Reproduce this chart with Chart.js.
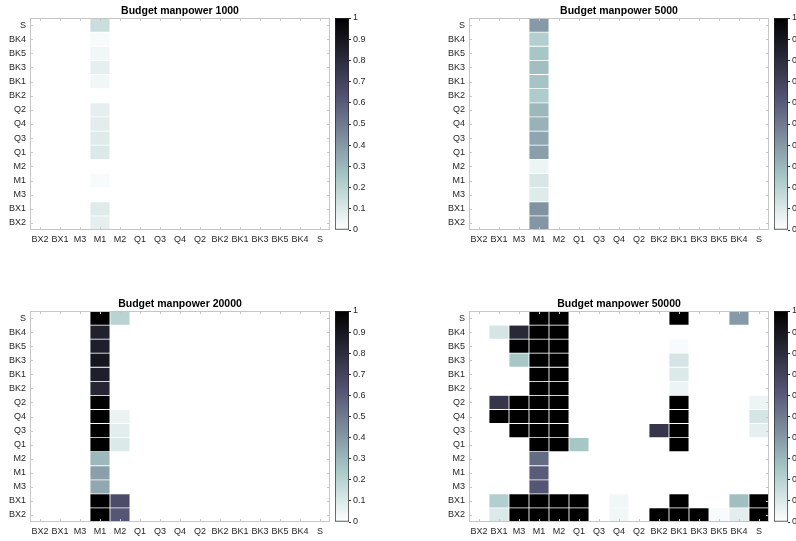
<!DOCTYPE html>
<html><head><meta charset="utf-8">
<script src="https://cdn.jsdelivr.net/npm/chart.js@4/dist/chart.umd.min.js"></script>
<style>
html,body{margin:0;padding:0;background:#fff;overflow:hidden;width:796px;height:541px;position:relative;}
canvas{position:absolute;}
</style></head><body>
<script>
// Row labels listed top -> bottom, column labels left -> right
const rowLabels = ['S','BK4','BK5','BK3','BK1','BK2','Q2','Q4','Q3','Q1','M2','M1','M3','BX1','BX2'];
const colLabels = ['BX2','BX1','M3','M1','M2','Q1','Q3','Q4','Q2','BK2','BK1','BK3','BK5','BK4','S'];
const panelTitles = ['Budget manpower 1000','Budget manpower 5000','Budget manpower 20000','Budget manpower 50000'];
const colorbarTicks = [0,0.1,0.2,0.3,0.4,0.5,0.6,0.7,0.8,0.9,1];

// columns:      BX2 BX1  M3   M1   M2   Q1  Q3  Q4   Q2  BK2  BK1  BK3 BK5  BK4   S
const budget1000 = [
  [0,  0,   0,  .15,  0,   0,  0,  0,   0,  0,   0,   0,  0,   0,   0], // S
  [0,  0,   0,  .02,  0,   0,  0,  0,   0,  0,   0,   0,  0,   0,   0], // BK4
  [0,  0,   0,  .04,  0,   0,  0,  0,   0,  0,   0,   0,  0,   0,   0], // BK5
  [0,  0,   0,  .07,  0,   0,  0,  0,   0,  0,   0,   0,  0,   0,   0], // BK3
  [0,  0,   0,  .04,  0,   0,  0,  0,   0,  0,   0,   0,  0,   0,   0], // BK1
  [0,  0,   0,  0,    0,   0,  0,  0,   0,  0,   0,   0,  0,   0,   0], // BK2
  [0,  0,   0,  .07,  0,   0,  0,  0,   0,  0,   0,   0,  0,   0,   0], // Q2
  [0,  0,   0,  .08,  0,   0,  0,  0,   0,  0,   0,   0,  0,   0,   0], // Q4
  [0,  0,   0,  .09,  0,   0,  0,  0,   0,  0,   0,   0,  0,   0,   0], // Q3
  [0,  0,   0,  .10,  0,   0,  0,  0,   0,  0,   0,   0,  0,   0,   0], // Q1
  [0,  0,   0,  0,    0,   0,  0,  0,   0,  0,   0,   0,  0,   0,   0], // M2
  [0,  0,   0,  .02,  0,   0,  0,  0,   0,  0,   0,   0,  0,   0,   0], // M1
  [0,  0,   0,  0,    0,   0,  0,  0,   0,  0,   0,   0,  0,   0,   0], // M3
  [0,  0,   0,  .09,  0,   0,  0,  0,   0,  0,   0,   0,  0,   0,   0], // BX1
  [0,  0,   0,  .07,  0,   0,  0,  0,   0,  0,   0,   0,  0,   0,   0]  // BX2
];
const budget5000 = [
  [0,  0,   0,  .40,  0,   0,  0,  0,   0,  0,   0,   0,  0,   0,   0], // S
  [0,  0,   0,  .22,  0,   0,  0,  0,   0,  0,   0,   0,  0,   0,   0], // BK4
  [0,  0,   0,  .25,  0,   0,  0,  0,   0,  0,   0,   0,  0,   0,   0], // BK5
  [0,  0,   0,  .28,  0,   0,  0,  0,   0,  0,   0,   0,  0,   0,   0], // BK3
  [0,  0,   0,  .26,  0,   0,  0,  0,   0,  0,   0,   0,  0,   0,   0], // BK1
  [0,  0,   0,  .23,  0,   0,  0,  0,   0,  0,   0,   0,  0,   0,   0], // BK2
  [0,  0,   0,  .30,  0,   0,  0,  0,   0,  0,   0,   0,  0,   0,   0], // Q2
  [0,  0,   0,  .32,  0,   0,  0,  0,   0,  0,   0,   0,  0,   0,   0], // Q4
  [0,  0,   0,  .36,  0,   0,  0,  0,   0,  0,   0,   0,  0,   0,   0], // Q3
  [0,  0,   0,  .38,  0,   0,  0,  0,   0,  0,   0,   0,  0,   0,   0], // Q1
  [0,  0,   0,  .05,  0,   0,  0,  0,   0,  0,   0,   0,  0,   0,   0], // M2
  [0,  0,   0,  .11,  0,   0,  0,  0,   0,  0,   0,   0,  0,   0,   0], // M1
  [0,  0,   0,  .09,  0,   0,  0,  0,   0,  0,   0,   0,  0,   0,   0], // M3
  [0,  0,   0,  .42,  0,   0,  0,  0,   0,  0,   0,   0,  0,   0,   0], // BX1
  [0,  0,   0,  .41,  0,   0,  0,  0,   0,  0,   0,   0,  0,   0,   0]  // BX2
];
const budget20000 = [
  [0,  0,   0,  1,   .20,  0,  0,  0,   0,  0,   0,   0,  0,   0,   0], // S
  [0,  0,   0,  .85,  0,   0,  0,  0,   0,  0,   0,   0,  0,   0,   0], // BK4
  [0,  0,   0,  .86,  0,   0,  0,  0,   0,  0,   0,   0,  0,   0,   0], // BK5
  [0,  0,   0,  .90,  0,   0,  0,  0,   0,  0,   0,   0,  0,   0,   0], // BK3
  [0,  0,   0,  .86,  0,   0,  0,  0,   0,  0,   0,   0,  0,   0,   0], // BK1
  [0,  0,   0,  .83,  0,   0,  0,  0,   0,  0,   0,   0,  0,   0,   0], // BK2
  [0,  0,   0,  1,    0,   0,  0,  0,   0,  0,   0,   0,  0,   0,   0], // Q2
  [0,  0,   0,  1,   .06,  0,  0,  0,   0,  0,   0,   0,  0,   0,   0], // Q4
  [0,  0,   0,  1,   .08,  0,  0,  0,   0,  0,   0,   0,  0,   0,   0], // Q3
  [0,  0,   0,  1,   .10,  0,  0,  0,   0,  0,   0,   0,  0,   0,   0], // Q1
  [0,  0,   0,  .30,  0,   0,  0,  0,   0,  0,   0,   0,  0,   0,   0], // M2
  [0,  0,   0,  .38,  0,   0,  0,  0,   0,  0,   0,   0,  0,   0,   0], // M1
  [0,  0,   0,  .35,  0,   0,  0,  0,   0,  0,   0,   0,  0,   0,   0], // M3
  [0,  0,   0,  1,   .66,  0,  0,  0,   0,  0,   0,   0,  0,   0,   0], // BX1
  [0,  0,   0,  1,   .62,  0,  0,  0,   0,  0,   0,   0,  0,   0,   0]  // BX2
];
const budget50000 = [
  [0,  0,   0,   1,   1,   0,  0,  0,   0,  0,   1,   0,  0,  .40,  0],  // S
  [0, .12, .82,  1,   1,   0,  0,  0,   0,  0,   0,   0,  0,   0,   0],  // BK4
  [0,  0,   1,   1,   1,   0,  0,  0,   0,  0,  .02,  0,  0,   0,   0],  // BK5
  [0,  0,  .25,  1,   1,   0,  0,  0,   0,  0,  .12,  0,  0,   0,   0],  // BK3
  [0,  0,   0,   1,   1,   0,  0,  0,   0,  0,  .10,  0,  0,   0,   0],  // BK1
  [0,  0,   0,   1,   1,   0,  0,  0,   0,  0,  .05,  0,  0,   0,   0],  // BK2
  [0, .76,  1,   1,   1,   0,  0,  0,   0,  0,   1,   0,  0,   0,  .05], // Q2
  [0,  1,   1,   1,   1,   0,  0,  0,   0,  0,   1,   0,  0,   0,  .12], // Q4
  [0,  0,   1,   1,   1,   0,  0,  0,   0, .76,  1,   0,  0,   0,  .07], // Q3
  [0,  0,   0,   1,   1,  .25, 0,  0,   0,  0,   1,   0,  0,   0,   0],  // Q1
  [0,  0,   0,  .55,  0,   0,  0,  0,   0,  0,   0,   0,  0,   0,   0],  // M2
  [0,  0,   0,  .60,  0,   0,  0,  0,   0,  0,   0,   0,  0,   0,   0],  // M1
  [0,  0,   0,  .62,  0,   0,  0,  0,   0,  0,   0,   0,  0,   0,   0],  // M3
  [0, .22,  1,   1,   1,   1,  0, .04,  0,  0,   1,   0,  0,  .28,  1],  // BX1
  [0, .10,  1,   1,   1,   1,  0, .04,  0,  1,   1,   1, .02, .08,  1]   // BX2
];

// reversed MATLAB "bone" colormap: 0 -> white, 1 -> black
function boneRev(v){
  const x = 1 - Math.max(0, Math.min(1, v));
  const hr = Math.min(1, 8*x/3);
  const hg = Math.min(1, Math.max(0, 8*x/3 - 1));
  const hb = Math.min(1, Math.max(0, 4*x - 3));
  const r = Math.round(255*(7*x + hb)/8);
  const g = Math.round(255*(7*x + hg)/8);
  const b = Math.round(255*(7*x + hr)/8);
  return `rgb(${r},${g},${b})`;
}

Chart.defaults.font.family = '"Liberation Sans", Arial, sans-serif';
Chart.defaults.color = '#262626';
Chart.defaults.animation = false;

const panels = [
  {title: panelTitles[0], values: budget1000,  l: 30,  t: 18,  h: 212, cb: 335},
  {title: panelTitles[1], values: budget5000,  l: 469, t: 18,  h: 212, cb: 774},
  {title: panelTitles[2], values: budget20000, l: 30,  t: 311, h: 211, cb: 335},
  {title: panelTitles[3], values: budget50000, l: 469, t: 311, h: 211, cb: 774}
];
const PW = 300, YW = 30, XH = 20, TH = 18;

// axes box with inward ticks, and the panel title centred over the plot area
const boxPlugin = {
  id: 'box',
  afterDatasetsDraw(chart, args, opts){
    const {ctx, chartArea: a} = chart;
    const xs = chart.scales.x, ys = chart.scales.y;
    ctx.save();
    ctx.strokeStyle = '#c6c6c6';
    ctx.lineWidth = 1;
    ctx.strokeRect(a.left + 0.5, a.top + 0.5, a.right - a.left - 1, a.bottom - a.top - 1);
    ctx.beginPath();
    for (let i = 0; i < colLabels.length; i++){
      const x = Math.round(xs.getPixelForValue(i)) + 0.5;
      ctx.moveTo(x, a.top); ctx.lineTo(x, a.top + 3);
      ctx.moveTo(x, a.bottom); ctx.lineTo(x, a.bottom - 3);
    }
    for (let i = 0; i < rowLabels.length; i++){
      const y = Math.round(ys.getPixelForValue(i + 0.5)) + 0.5;
      ctx.moveTo(a.left, y); ctx.lineTo(a.left + 3, y);
      ctx.moveTo(a.right, y); ctx.lineTo(a.right - 3, y);
    }
    ctx.stroke();
    ctx.fillStyle = '#000';
    ctx.font = 'bold 10.5px "Liberation Sans", Arial, sans-serif';
    ctx.textAlign = 'center';
    ctx.textBaseline = 'middle';
    ctx.fillText(opts.text, (a.left + a.right) / 2, a.top - 6.5);
    ctx.restore();
  }
};

function mkCanvas(left, top, w, h){
  const c = document.createElement('canvas');
  c.width = w; c.height = h;
  c.style.left = left + 'px'; c.style.top = top + 'px';
  c.style.width = w + 'px'; c.style.height = h + 'px';
  document.body.appendChild(c);
  return c;
}

panels.forEach(p => {
  const top = p.t - TH;
  const cv = mkCanvas(p.l - YW, top, PW + YW + 2, TH + p.h + XH);
  const nRows = rowLabels.length;
  const datasets = p.values.map((row, ri) => {
    const yi = nRows - 1 - ri;
    return {
      label: rowLabels[ri],
      data: colLabels.map(() => [yi, yi + 1]),
      backgroundColor: row.map(boneRev),
      borderColor: 'rgba(255,255,255,0.6)',
      borderWidth: 0.75,
      borderSkipped: false,
      grouped: false,
      barPercentage: 1,
      categoryPercentage: 1
    };
  });
  new Chart(cv, {
    type: 'bar',
    data: {labels: colLabels, datasets},
    options: {
      responsive: false, devicePixelRatio: 1, animation: false,
      layout: {padding: {left: 0, right: 2, top: TH, bottom: 0}, autoPadding: false},
      plugins: {
        legend: {display: false}, tooltip: {enabled: false}, title: {display: false},
        box: {text: p.title}
      },
      scales: {
        x: {
          type: 'category', offset: true,
          grid: {display: false, drawTicks: false}, border: {display: false},
          ticks: {font: {size: 9}, color: '#262626', padding: 4, maxRotation: 0, autoSkip: false},
          afterFit(s){ s.height = XH; }
        },
        y: {
          type: 'linear', min: 0, max: nRows,
          grid: {display: false, drawTicks: false}, border: {display: false},
          afterBuildTicks(s){ s.ticks = rowLabels.map((_, i) => ({value: i + 0.5})); },
          ticks: {font: {size: 9}, color: '#262626', padding: 4, autoSkip: false,
            callback: v => rowLabels[nRows - 1 - Math.floor(v)]},
          afterFit(s){ s.width = YW; }
        }
      }
    },
    plugins: [boxPlugin]
  });

  // colorbar
  const cbW = 14, axW = 30;
  const cc = mkCanvas(p.cb, top, cbW + axW, TH + p.h + XH);
  new Chart(cc, {
    type: 'bar',
    data: {labels: [''], datasets: [{
      data: [[0, 1]],
      backgroundColor(ctx){
        const ch = ctx.chart, a = ch.chartArea;
        if (!a) return '#fff';
        const g = ch.ctx.createLinearGradient(0, a.bottom, 0, a.top);
        for (let i = 0; i <= 64; i++) g.addColorStop(i/64, boneRev(i/64));
        return g;
      },
      borderColor: '#262626', borderWidth: 1, borderSkipped: false,
      barPercentage: 1, categoryPercentage: 1
    }]},
    options: {
      responsive: false, devicePixelRatio: 1, animation: false,
      layout: {padding: {left: 0, right: 0, top: TH, bottom: XH}, autoPadding: false},
      plugins: {legend: {display: false}, tooltip: {enabled: false}},
      scales: {
        x: {display: false},
        y: {
          position: 'right', min: 0, max: 1,
          afterBuildTicks(s){ s.ticks = colorbarTicks.map(v => ({value: v})); },
          grid: {display: true, drawOnChartArea: false, drawTicks: true, tickLength: 2, color: '#262626'},
          border: {display: false},
          ticks: {font: {size: 9}, color: '#262626', padding: 2, callback: v => String(+v.toFixed(1))},
          afterFit(s){ s.width = axW; }
        }
      }
    }
  });
});
</script>
</body></html>
